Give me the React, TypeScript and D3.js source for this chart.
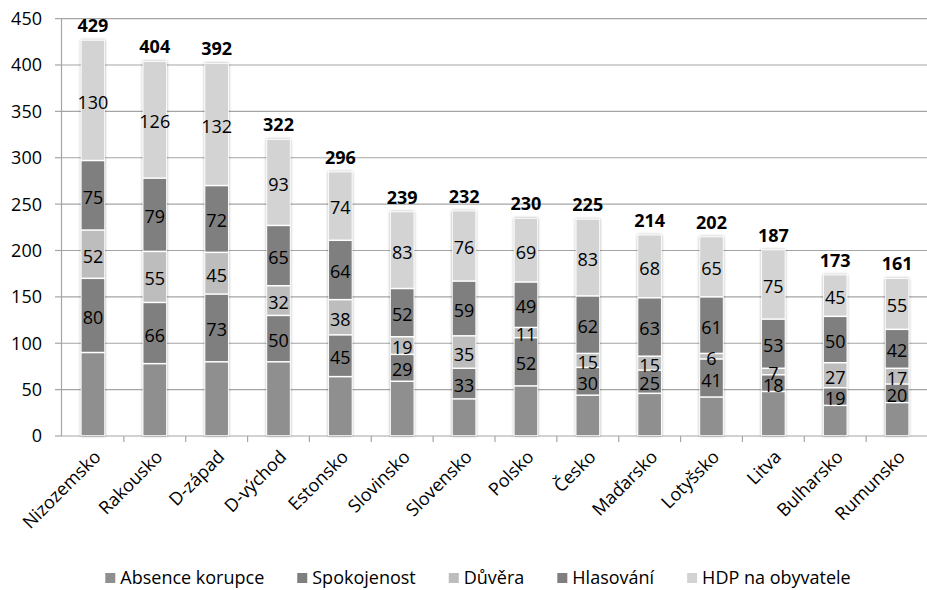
import React from "react";
import * as d3 from "d3";

const countries = [
  "Nizozemsko", "Rakousko", "D-západ", "D-východ", "Estonsko", "Slovinsko", "Slovensko",
  "Polsko", "Česko", "Maďarsko", "Lotyšsko", "Litva", "Bulharsko", "Rumunsko",
];
const seriesNames = ["Absence korupce", "Spokojenost", "Důvěra", "Hlasování", "HDP na obyvatele"];

// bottom segment has no printed label in the original
const absenceKorupce = [90, 78, 80, 80, 64, 59, 40, 54, 44, 46, 42, 48, 33, 36];
const spokojenost = [80, 66, 73, 50, 45, 29, 33, 52, 30, 25, 41, 18, 19, 20];
const duvera = [52, 55, 45, 32, 38, 19, 35, 11, 15, 15, 6, 7, 27, 17];
const hlasovani = [75, 79, 72, 65, 64, 52, 59, 49, 62, 63, 61, 53, 50, 42];
const hdp = [130, 126, 132, 93, 74, 83, 76, 69, 83, 68, 65, 75, 45, 55];
const totals = [429, 404, 392, 322, 296, 239, 232, 230, 225, 214, 202, 187, 173, 161];
const yTicks = [0, 50, 100, 150, 200, 250, 300, 350, 400, 450];

const colors = ["#8f8f8f", "#7f7f7f", "#bdbdbd", "#7f7f7f", "#d3d3d3"];
const showLabel = [false, true, true, true, true];

const W = 927, H = 590;
const FONT = "'Open Sans', sans-serif";

export default function App() {
  const rows = countries.map((c, i) => ({
    country: c,
    s0: absenceKorupce[i], s1: spokojenost[i], s2: duvera[i], s3: hlasovani[i], s4: hdp[i],
  }));
  const keys = ["s0", "s1", "s2", "s3", "s4"];
  const stacked = d3.stack<any>().keys(keys)(rows);

  const x = d3.scaleBand().domain(countries).range([62, 928]).paddingInner(0.61).paddingOuter(0.305);
  const y = d3.scaleLinear().domain([0, 450]).range([436, 18.6]);
  const step = x.step();

  // legend layout
  const canvas = document.createElement("canvas");
  const ctx = canvas.getContext("2d")!;
  ctx.font = `18px ${FONT}`;
  const sq = 10, gapSq = 5, gapItem = 33;
  const widths = seriesNames.map((n) => sq + gapSq + ctx.measureText(n).width);
  const totalW = d3.sum(widths) + gapItem * (widths.length - 1);
  let lx = 478 - totalW / 2;
  const legendPos = widths.map((w) => {
    const p = lx;
    lx += w + gapItem;
    return p;
  });

  return (
    <div style={{ position: "absolute", left: 0, top: 0 }}>
      <svg width={W} height={H} style={{ display: "block", fontFamily: FONT }}>
        <defs>
          <filter id="sh" x="-30%" y="-10%" width="160%" height="120%">
            <feDropShadow dx="0" dy="0" stdDeviation="1.6" floodColor="#000" floodOpacity="0.35" />
          </filter>
        </defs>
        <rect width={W} height={H} fill="#fff" />
        {/* gridlines */}
        {yTicks.map((t) => (
          <g key={t}>
            {t > 0 && <line x1={62} x2={928} y1={y(t)} y2={y(t)} stroke="#a5a5a5" strokeWidth={1.2} />}
            <line x1={55} x2={62} y1={y(t)} y2={y(t)} stroke="#a5a5a5" strokeWidth={1.2} />
            <text x={42} y={y(t)} dy="0.36em" textAnchor="end" fontSize={18} fill="#000">{t}</text>
          </g>
        ))}
        <line x1={61.5} x2={61.5} y1={y(450)} y2={436} stroke="#a5a5a5" strokeWidth={1.2} />
        <line x1={62} x2={928} y1={436} y2={436} stroke="#a5a5a5" strokeWidth={1.2} />
        {countries.map((c, i) => (
          <line key={c} x1={62 + step * (i + 1)} x2={62 + step * (i + 1)} y1={436} y2={442} stroke="#a5a5a5" strokeWidth={1.2} />
        ))}
        {/* bars */}
        {countries.map((c, i) => {
          const top = stacked[stacked.length - 1][i][1];
          return (
            <g key={c}>
              <rect x={x(c)!} y={y(top)} width={x.bandwidth()} height={436 - y(top)} fill="#fff" filter="url(#sh)" />
              {stacked.map((s, si) => (
                <rect key={si} x={x(c)! + 0.75} y={y(s[i][1]) + 0.75} width={x.bandwidth() - 1.5}
                  height={Math.max(0, y(s[i][0]) - y(s[i][1]) - 1.5)} fill={colors[si]} />
              ))}
            </g>
          );
        })}
        {/* segment labels */}
        {countries.map((c, i) =>
          stacked.map((s, si) =>
            showLabel[si] ? (
              <text key={c + si} x={x(c)! + x.bandwidth() / 2} y={(y(s[i][0]) + y(s[i][1])) / 2 + 2} dy="0.36em"
                textAnchor="middle" fontSize={18} fill="#000">{s[i].data[keys[si]]}</text>
            ) : null
          )
        )}
        {/* totals */}
        {countries.map((c, i) => (
          <text key={c} x={x(c)! + x.bandwidth() / 2} y={y(stacked[4][i][1]) - 8} textAnchor="middle"
            fontSize={18} fontWeight="bold" fill="#000">{totals[i]}</text>
        ))}
        {/* x labels */}
        {countries.map((c) => (
          <text key={c} transform={`translate(${x(c)! + x.bandwidth() / 2 + 9},${458}) rotate(-45)`} textAnchor="end"
            fontSize={18} fill="#000">{c}</text>
        ))}
        {/* legend */}
        {seriesNames.map((n, i) => (
          <g key={n} transform={`translate(${legendPos[i]},578)`}>
            <rect x={0} y={-5} width={sq} height={sq} fill={colors[i]} />
            <text x={sq + gapSq} y={0} dy="0.36em" fontSize={18} fill="#000">{n}</text>
          </g>
        ))}
      </svg>
    </div>
  );
}
